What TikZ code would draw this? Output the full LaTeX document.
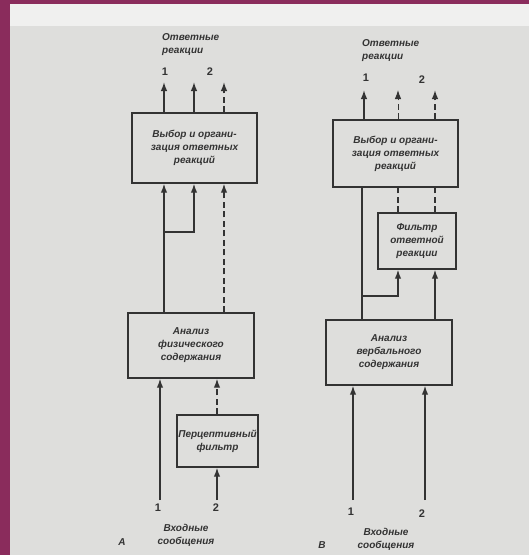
\documentclass[tikz,border=0pt]{standalone}
\usepackage{fontspec}
\setmainfont{Liberation Sans}
\usepackage{tikz}
\usetikzlibrary{arrows.meta,positioning}

\definecolor{frame}{HTML}{8A2C5C}
\definecolor{paper}{HTML}{DEDEDC}
\definecolor{ink}{HTML}{333333}

\tikzset{
  box/.style={draw=ink,line width=1.4pt,fill=paper,align=center,inner sep=0pt,
    font=\fontsize{10}{13}\selectfont\itshape\bfseries,text=ink},
  lbl/.style={align=center,inner sep=0pt,text=ink,
    font=\fontsize{10}{13}\selectfont\itshape\bfseries},
  num/.style={inner sep=0pt,text=ink,font=\fontsize{11}{12}\selectfont\bfseries},
  arr/.style={draw=ink,line width=1.4pt,-{Latex[length=9pt,width=6.5pt]}},
  ln/.style={draw=ink,line width=1.4pt},
  dsh/.style={dash pattern=on 6pt off 3.5pt}
}

\begin{document}
\begin{tikzpicture}[x=1pt,y=-1pt]
      % page
      \fill[frame] (0,0) rectangle (529,555);
      \fill[paper] (10,4) rectangle (529,555);
      \fill[white!55!paper] (10,4) rectangle (529,26);
      \useasboundingbox (0,0) rectangle (529,555);

      % A
      \node[box,minimum width=125pt,minimum height=70pt] (selA) at (194.5,148)
        {Выбор и органи-\\зация ответных\\реакций};
      \node[box,minimum width=126pt,minimum height=65pt] (anaA) at (191,345.5)
        {Анализ\\физического\\содержания};
      \node[box,minimum width=81pt,minimum height=52pt] (filA) at (217.5,441)
        {Перцептивный\\фильтр};
      \coordinate (oA1) at (164,82);
      \coordinate (oA2) at (194,82);
      \coordinate (oA3) at (224,82);
      \coordinate (jA) at (164,232);
      \coordinate (iA1) at (160,500);
      \coordinate (iA2) at (217,500);
      \node[lbl,anchor=west,align=left] (resA) at (162,45) {Ответные\\реакции};
      \node[num] (nA1) at (165,72) {1};
      \node[num] (nA2) at (210,72) {2};
      \node[num] (nA3) at (158,508) {1};
      \node[num] (nA4) at (216,508) {2};
      \node[lbl] (inA) at (186,535) {Входные\\сообщения};
      \node[lbl] (capA) at (122,542) {А};
      \draw[arr] (selA.north -| oA1) -- (oA1);
      \draw[arr] (selA.north -| oA2) -- (oA2);
      \draw[arr,dsh] (selA.north -| oA3) -- (oA3);
      \draw[arr] (anaA.north -| oA1) -- (selA.south -| oA1);
      \draw[arr] (jA) -| (selA.south -| oA2);
      \draw[arr,dsh] (anaA.north -| oA3) -- (selA.south -| oA3);
      \draw[arr] (iA1) -- (anaA.south -| iA1);
      \draw[arr] (iA2) -- (filA.south -| iA2);
      \draw[arr,dsh] (filA.north -| iA2) -- (anaA.south -| iA2);

      % B
      \node[box,minimum width=125pt,minimum height=67pt] (selB) at (395.5,153.5)
        {Выбор и органи-\\зация ответных\\реакций};
      \node[box,minimum width=78pt,minimum height=56pt] (filB) at (417,241)
        {Фильтр\\ответной\\реакции};
      \node[box,minimum width=126pt,minimum height=65pt] (anaB) at (389,352.5)
        {Анализ\\вербального\\содержания};
      \coordinate (oB1) at (364,90);
      \coordinate (oB2) at (398,90);
      \coordinate (oB3) at (435,90);
      \coordinate (jB) at (362,296);
      \coordinate (iB1) at (353,500);
      \coordinate (iB2) at (425,500);
      \node[lbl,anchor=west,align=left] (resB) at (362,51) {Ответные\\реакции};
      \node[num] (nB1) at (366,78) {1};
      \node[num] (nB2) at (422,80) {2};
      \node[num] (nB3) at (351,512) {1};
      \node[num] (nB4) at (422,514) {2};
      \node[lbl] (inB) at (386,539) {Входные\\сообщения};
      \node[lbl] (capB) at (322,545) {В};
      \draw[arr] (selB.north -| oB1) -- (oB1);
      \draw[arr,dsh,line width=0.9pt] (selB.north -| oB2) -- (oB2);
      \draw[arr,dsh] (selB.north -| oB3) -- (oB3);
      \draw[ln] (anaB.north -| jB) -- (selB.south -| jB);
      \draw[ln,dsh] (filB.north -| oB2) -- (selB.south -| oB2);
      \draw[ln,dsh] (filB.north -| oB3) -- (selB.south -| oB3);
      \draw[arr] (jB) -| (filB.south -| oB2);
      \draw[arr] (anaB.north -| oB3) -- (filB.south -| oB3);
      \draw[arr] (iB1) -- (anaB.south -| iB1);
      \draw[arr] (iB2) -- (anaB.south -| iB2);
\end{tikzpicture}
\end{document}
